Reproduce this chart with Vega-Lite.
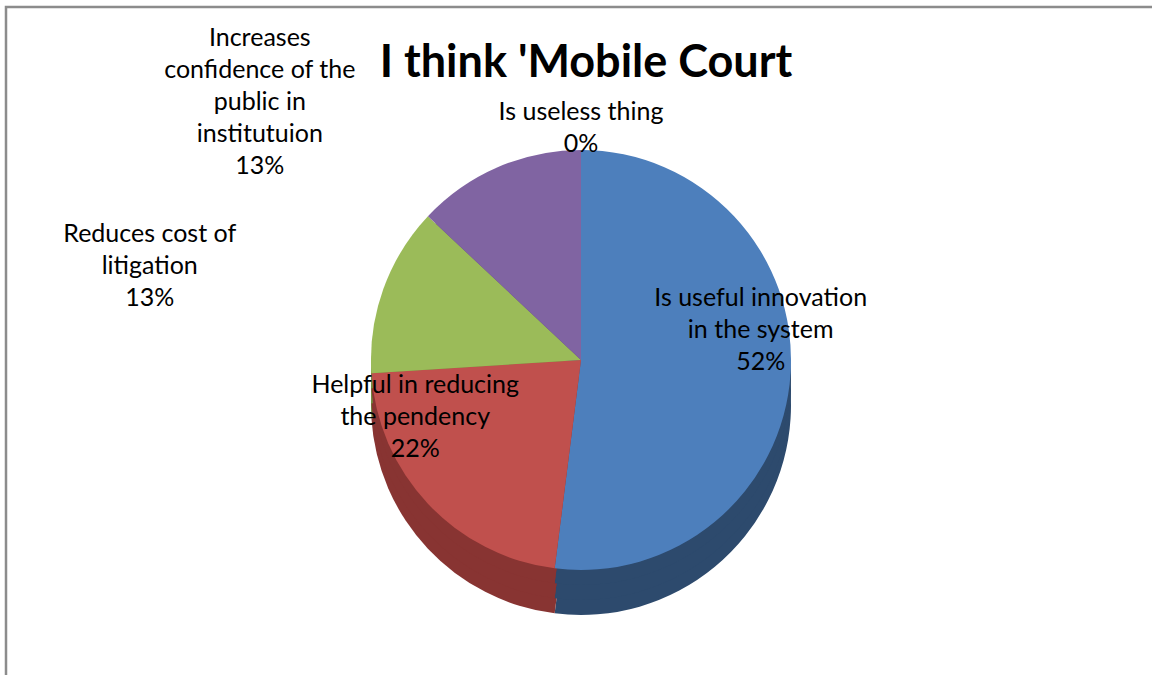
{
  "$schema": "https://vega.github.io/schema/vega-lite/v6.json",
  "width": 1150,
  "height": 706,
  "autosize": {"type": "none"},
  "padding": {"left": 6, "top": 7, "right": -4, "bottom": -38},
  "background": "white",
  "view": {"stroke": "#8c8c8c", "strokeWidth": 2.5, "fill": "white"},
  "config": {"view": {"stroke": "#8c8c8c", "strokeWidth": 2.5}, "font": "Lato"},
  "title": {"text": "I think 'Mobile Court", "fontSize": 45, "font": "Lato", "fontWeight": "bold", "color": "#000000", "anchor": "middle", "offset": -83, "dx": 5},
  "data": {"values": [
    {"category": "Is useful innovation in the system", "label": "Is useful innovation\nin the system", "value": 52, "rank": 1},
    {"category": "Helpful in reducing the pendency", "label": "Helpful in reducing\nthe pendency", "value": 22, "rank": 2},
    {"category": "Reduces cost of litigation", "label": "Reduces cost of\nlitigation", "value": 13, "rank": 3},
    {"category": "Increases confidence of the public in institutuion", "label": "Increases\nconfidence of the\npublic in\ninstitutuion", "value": 13, "rank": 4},
    {"category": "Is useless thing", "label": "Is useless thing", "value": 0, "rank": 5}
  ]},
  "transform": [{"calculate": "datum.label + '\\n' + datum.value + '%'", "as": "txt"}],
  "encoding": {
    "theta": {"field": "value", "type": "quantitative", "stack": true},
    "order": {"field": "rank", "type": "ordinal"}
  },
  "layer": [
    {
      "mark": {"type": "arc", "outerRadius": 210, "yOffset": 45},
      "encoding": {"color": {"field": "category", "type": "nominal", "legend": null,
        "scale": {"domain": ["Is useful innovation in the system", "Helpful in reducing the pendency", "Reduces cost of litigation", "Increases confidence of the public in institutuion", "Is useless thing"],
                  "range": ["#2d4a6d", "#883432", "#6f893c", "#5b4878", "#357c8f"]}}}
    },
    {
      "mark": {"type": "arc", "outerRadius": 210, "yOffset": 30},
      "encoding": {"color": {"field": "category", "type": "nominal", "legend": null,
        "scale": {"domain": ["Is useful innovation in the system", "Helpful in reducing the pendency", "Reduces cost of litigation", "Increases confidence of the public in institutuion", "Is useless thing"],
                  "range": ["#2d4a6d", "#883432", "#6f893c", "#5b4878", "#357c8f"]}}}
    },
    {
      "mark": {"type": "arc", "outerRadius": 210, "yOffset": 15},
      "encoding": {"color": {"field": "category", "type": "nominal", "legend": null,
        "scale": {"domain": ["Is useful innovation in the system", "Helpful in reducing the pendency", "Reduces cost of litigation", "Increases confidence of the public in institutuion", "Is useless thing"],
                  "range": ["#2d4a6d", "#883432", "#6f893c", "#5b4878", "#357c8f"]}}}
    },
    {
      "mark": {"type": "arc", "outerRadius": 210},
      "encoding": {"color": {"field": "category", "type": "nominal", "legend": null,
        "scale": {"domain": ["Is useful innovation in the system", "Helpful in reducing the pendency", "Reduces cost of litigation", "Increases confidence of the public in institutuion", "Is useless thing"],
                  "range": ["#4d7fbc", "#c0504d", "#9bbb59", "#8064a2", "#4bacc6"]}}}
    },
    {
      "mark": {"type": "text", "radius": 160, "dx": 20, "dy": -72, "fontSize": 25, "lineBreak": "\n", "lineHeight": 32, "align": "center", "baseline": "middle", "color": "#000000"},
      "encoding": {"text": {"condition": {"test": "datum.category === 'Is useful innovation in the system'", "field": "txt"}, "value": ""}}
    },
    {
      "mark": {"type": "text", "radius": 200, "dx": -20, "dy": -112, "fontSize": 25, "lineBreak": "\n", "lineHeight": 32, "align": "center", "baseline": "middle", "color": "#000000"},
      "encoding": {"text": {"condition": {"test": "datum.category === 'Helpful in reducing the pendency'", "field": "txt"}, "value": ""}}
    },
    {
      "mark": {"type": "text", "radius": 300, "dx": -149, "dy": -24, "fontSize": 25, "lineBreak": "\n", "lineHeight": 32, "align": "center", "baseline": "middle", "color": "#000000"},
      "encoding": {"text": {"condition": {"test": "datum.category === 'Reduces cost of litigation'", "field": "txt"}, "value": ""}}
    },
    {
      "mark": {"type": "text", "radius": 280, "dx": -210, "dy": -65, "fontSize": 25, "lineBreak": "\n", "lineHeight": 32, "align": "center", "baseline": "middle", "color": "#000000"},
      "encoding": {"text": {"condition": {"test": "datum.category === 'Increases confidence of the public in institutuion'", "field": "txt"}, "value": ""}}
    },
    {
      "mark": {"type": "text", "radius": 234, "dy": -14, "fontSize": 25, "lineBreak": "\n", "lineHeight": 32, "align": "center", "baseline": "middle", "color": "#000000"},
      "encoding": {"text": {"condition": {"test": "datum.category === 'Is useless thing'", "field": "txt"}, "value": ""}}
    }
  ],
  "resolve": {"scale": {"color": "independent"}}
}
